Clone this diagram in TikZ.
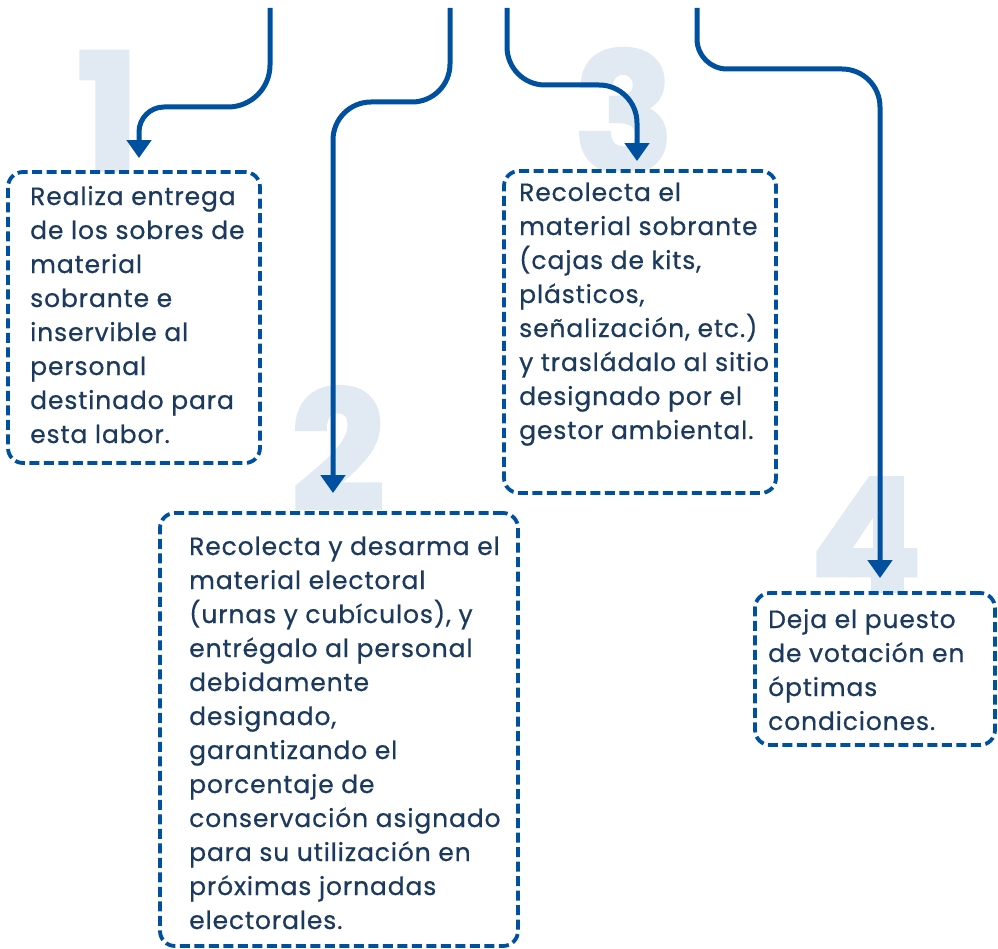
\documentclass[tikz,border=0pt]{standalone}
\usepackage{fontspec}
\setmainfont{Poppins}
\newfontfamily\pasofont[LetterSpace=3.5, FakeBold=0.6]{Poppins}
\newfontfamily\numfont[BoldFeatures={FakeBold=3}]{Poppins}
\usepackage{xcolor}
\usetikzlibrary{arrows.meta, positioning}

\definecolor{azul}{HTML}{0050A0}
\definecolor{tinta}{HTML}{1C3A5E}
\definecolor{fondo}{HTML}{E1E9F2}

\tikzset{
  caja/.style={draw=azul, line width=3.8pt, dash pattern=on 10pt off 4.5pt,
    rounded corners=15pt, fill=white, inner sep=0pt},
  flecha/.style={azul, line width=5pt, -{Triangle[width=24pt,length=18pt]}},
  % anclado en la linea base de la ultima linea
  textocaja/.style={anchor=base west, align=left, inner sep=0pt, text=tinta,
    font=\pasofont\fontsize{25}{34}\selectfont},
  numero/.style={anchor=base, inner sep=0pt, text=fondo,
    font=\numfont\fontsize{163}{163}\selectfont\bfseries}
}

\begin{document}
\begin{tikzpicture}[x=1pt, y=-1pt]
\useasboundingbox (0,0) rectangle (998,949);

% numeros de fondo
\node[numero] (num1) at (108,171) {1};
\node[numero] (num2) at (338,509) {2};
\node[numero] (num3) at (624,171) {3};
\node[numero] (num4) at (866,596) {4};

% cajas
\node[caja, minimum width=252pt, minimum height=291pt] (caja1) at (134,317.5) {};
\node[caja, minimum width=358pt, minimum height=433pt] (caja2) at (339,729.5) {};
\node[caja, minimum width=272pt, minimum height=322pt] (caja3) at (640,332) {};
\node[caja, minimum width=240pt, minimum height=152pt] (caja4) at (875,669) {};

% textos
\node[textocaja] (paso1) at (30,443) {Realiza entrega\\de los sobres de\\material\\sobrante e\\inservible al\\personal\\destinado para\\esta labor.};
\node[textocaja] (paso2) at (189,929) {Recolecta y desarma el\\material electoral\\(urnas y cubículos), y\\entrégalo al personal\\debidamente\\designado,\\garantizando el\\porcentaje de\\conservación asignado\\para su utilización en\\próximas jornadas\\electorales.};
\node[textocaja] (paso3) at (519,439) {Recolecta el\\material sobrante\\(cajas de kits,\\plásticos,\\señalización, etc.)\\y trasládalo al sitio\\designado por el\\gestor ambiental.};
\node[textocaja] (paso4) at (768,730) {Deja el puesto\\de votación en\\óptimas\\condiciones.};

% flechas
\coordinate (ini1) at (270,8);
\coordinate (ini2) at (450,8);
\coordinate (ini3) at (507,8);
\coordinate (ini4) at (697,8);

\draw[flecha] (ini1) [rounded corners=42pt] -- ++(0,99)
  [rounded corners=25pt] -| ([xshift=5pt,yshift=12pt]caja1.north);
\draw[flecha] (ini2) [rounded corners=38pt] -- ++(0,94)
  -| ([xshift=-6pt,yshift=18pt]caja2.north);
\draw[flecha] (ini3) [rounded corners=38pt] -- ++(0,77)
  -| ([xshift=-3pt,yshift=8pt]caja3.north);
\draw[flecha] (ini4) [rounded corners=30pt] -- ++(0,61)
  [rounded corners=38pt] -| ([xshift=5pt,yshift=13pt]caja4.north);
\end{tikzpicture}
\end{document}
